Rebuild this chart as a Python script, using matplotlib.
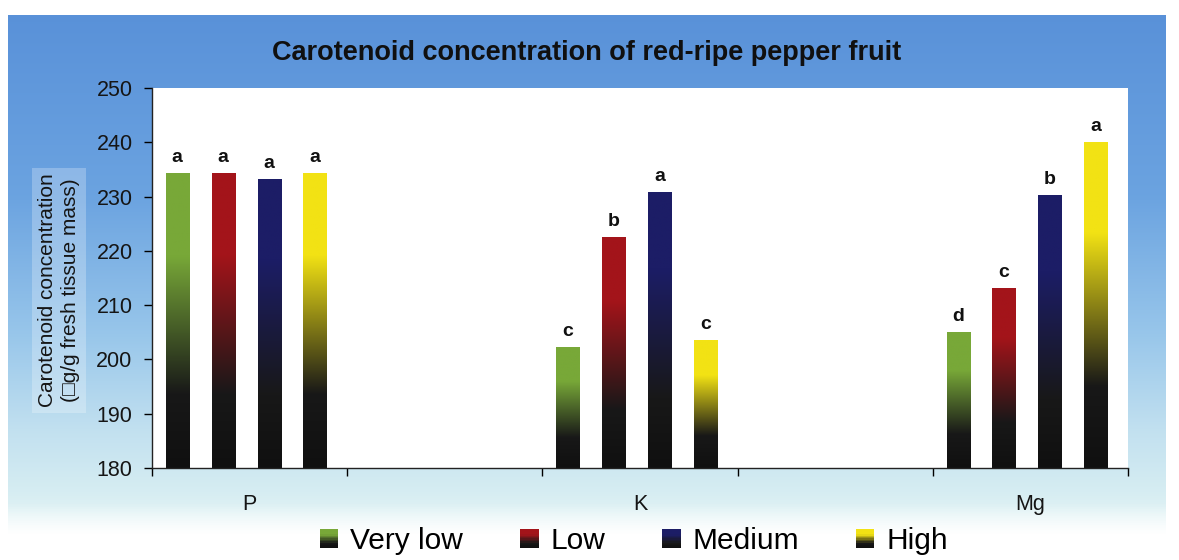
import numpy as np
import matplotlib
matplotlib.use("Agg")
import matplotlib.pyplot as plt
from matplotlib.colors import LinearSegmentedColormap
from matplotlib.legend_handler import HandlerBase
from matplotlib.patches import Rectangle

plt.rcParams["font.family"] = ["Liberation Sans", "DejaVu Sans"]

# Nutrient treatments (every other slot on the axis is left empty)
nutrients = ["P", "K", "Mg"]
levels = ["Very low", "Low", "Medium", "High"]

very_low = [234.3, 202.2, 205.0]
low = [234.4, 222.6, 213.2]
medium = [233.3, 230.9, 230.2]
high = [234.4, 203.6, 240.1]

sig_very_low = ["a", "c", "d"]
sig_low = ["a", "b", "c"]
sig_medium = ["a", "a", "b"]
sig_high = ["a", "c", "a"]

y_ticks = [180, 190, 200, 210, 220, 230, 240, 250]

series = [very_low, low, medium, high]
letters = [sig_very_low, sig_low, sig_medium, sig_high]
top_colors = ["#78a838", "#a3141a", "#1c1d66", "#f2e214"]


def bar_cmap(color):
    # colour at the top of a bar, fading to black at the base
    return LinearSegmentedColormap.from_list(
        "fade", [(0.0, "#101010"), (0.25, "#181818"), (0.72, color), (1.0, color)])


cmaps = [bar_cmap(c) for c in top_colors]


class GradientHandler(HandlerBase):
    def __init__(self, cmap, steps=14):
        super().__init__()
        self.cmap = cmap
        self.steps = steps

    def legend_artist(self, legend, orig_handle, fontsize, handlebox):
        x0, y0 = -handlebox.xdescent, -handlebox.ydescent
        w, h = handlebox.width, handlebox.height
        art = None
        for i in range(self.steps):
            art = Rectangle((x0, y0 + h * i / self.steps), w, h / self.steps * 1.05,
                            facecolor=self.cmap(i / (self.steps - 1)), edgecolor="none",
                            transform=handlebox.get_transform())
            handlebox.add_artist(art)
        return art


W, H = 1179, 560
fig = plt.figure(figsize=(W / 100, H / 100), dpi=100, facecolor="white")

# blue backdrop behind the chart, fading out towards the bottom
bg = fig.add_axes([0, 0, 1, 1], zorder=0)
bg.set_xlim(0, W)
bg.set_ylim(0, H)
bg.axis("off")
stops = np.array([0.0, 0.35, 0.62, 0.8, 0.92, 1.0])
cols = np.array([[0.35, 0.57, 0.85], [0.42, 0.64, 0.88], [0.60, 0.78, 0.92],
                 [0.76, 0.88, 0.94], [0.84, 0.93, 0.95], [0.92, 0.97, 0.97]])
t = np.linspace(0, 1, 300)
grad = np.stack([np.interp(t, stops, cols[:, k]) for k in range(3)], axis=1)
alpha = np.clip((1 - t) / 0.06, 0, 1)
img = np.column_stack([grad, alpha])[:, None, :].repeat(2, axis=1)
bg.imshow(img, extent=[8, 1166, H - 535, H - 15], origin="upper", aspect="auto")

ax = fig.add_axes([152 / W, 1 - 468 / H, (1128 - 152) / W, (468 - 88) / H], zorder=1)
ax.set_facecolor("white")

ymin, ymax = 180, 250
step, width, shift = 0.235, 0.118, -0.018
group_x = np.arange(len(nutrients)) * 2

for j, (vals, sig, cmap) in enumerate(zip(series, letters, cmaps)):
    xs = group_x + shift + (j - 1.5) * step
    heights = np.array(vals) - ymin
    bars = ax.bar(xs, heights, width=width, bottom=ymin, facecolor="none",
                  edgecolor="none", label=levels[j], zorder=2)
    for bar, v, s in zip(bars, vals, sig):
        x0 = bar.get_x()
        gimg = ax.imshow(np.linspace(0, 1, 256).reshape(-1, 1), cmap=cmap,
                         extent=[x0, x0 + bar.get_width(), ymin, v], origin="lower",
                         aspect="auto", zorder=2)
        gimg.set_clip_path(bar)
        ax.text(bar.get_x() + bar.get_width() / 2, v + 1.3, s, ha="center", va="bottom",
                fontsize=14, fontweight="bold", color="#111111", zorder=3)

ax.set_xlim(-0.5, 4.5)
ax.set_ylim(ymin, ymax)
ax.set_yticks(y_ticks)
ax.set_xticks(group_x)
ax.set_xticklabels(nutrients)
ax.set_xticks(np.arange(-0.5, 5, 1.0), minor=True)
ax.tick_params(axis="x", which="major", length=0, pad=19, labelsize=15.5,
               labelcolor="#151515")
ax.tick_params(axis="x", which="minor", length=6, width=1, direction="out")
ax.tick_params(axis="y", length=6, width=1, direction="out", pad=8, labelsize=15.5,
               labelcolor="#151515")
for side in ["top", "right"]:
    ax.spines[side].set_visible(False)
for side in ["left", "bottom"]:
    ax.spines[side].set_linewidth(1)
    ax.spines[side].set_color("#222222")

ax.set_ylabel("Carotenoid concentration\n(\u25a1g/g fresh tissue mass)", fontsize=15,
              linespacing=1.3, ha="center", va="center", rotation_mode="default",
              color="#151515",
              bbox=dict(facecolor="white", alpha=0.25, edgecolor="none", pad=4))
ax.yaxis.set_label_coords((59 - 152) / (1128 - 152), (468 - 290) / (468 - 88))

fig.text(587 / W, 1 - 53 / H, "Carotenoid concentration of red-ripe pepper fruit",
         ha="center", va="center", fontsize=19.5, fontweight="bold", color="#101010")

handles, labels = ax.get_legend_handles_labels()
fig.legend(handles, labels, loc="center", bbox_to_anchor=(634 / W, 1 - 541 / H),
           ncol=4, frameon=False, fontsize=21.5, handlelength=0.62, handleheight=0.62,
           handletextpad=0.4, columnspacing=1.9,
           handler_map={h: GradientHandler(c) for h, c in zip(handles, cmaps)})

fig.savefig("out.png", dpi=100, facecolor="white")
